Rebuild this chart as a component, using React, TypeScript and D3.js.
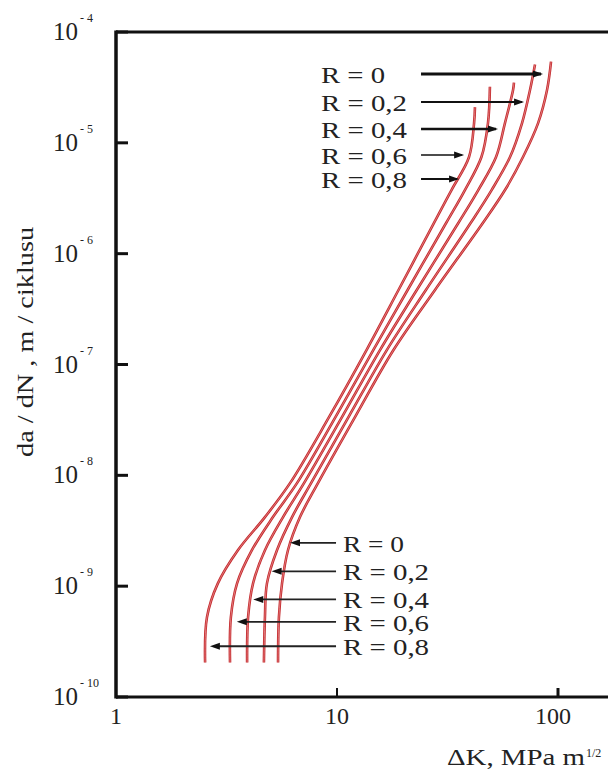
import React from "react";
import * as d3 from "d3";

// ---- data ----
const rateLevels = [2.05e-10, 5.25e-10, 1.06e-9, 2.11e-9, 4.2e-9, 8.5e-9, 3.35e-8, 1.35e-7, 4.7e-7, 1.9e-6, 3.75e-6, 7.45e-6, 1.5e-5];

const dkR08 = [2.53, 2.58, 2.89, 3.56, 4.72, 6.13, 9.2, 13.6, 18.98, 27.48, 32.97, 39.57, 41.7, 42.1];
const rateR08 = [...rateLevels, 2.1e-5];
const dkR06 = [3.28, 3.31, 3.53, 4.12, 5.13, 6.59, 9.84, 14.59, 20.87, 31.21, 37.91, 45.03, 48.2, 49.2];
const rateR06 = [...rateLevels, 3.2e-5];
const dkR04 = [3.92, 3.96, 4.17, 4.72, 5.7, 7.09, 10.53, 15.65, 22.96, 35.46, 43.57, 52.43, 57.5, 62.6, 63.2];
const rateR04 = [...rateLevels, 3.0e-5, 3.5e-5];
const dkR02 = [4.67, 4.72, 4.82, 5.35, 6.26, 7.63, 11.27, 16.8, 25.25, 40.3, 50.07, 60.66, 68.7, 74.7, 78.7];
const rateR02 = [...rateLevels, 3.0e-5, 5.1e-5];
const dkR0 = [5.41, 5.46, 5.64, 6.0, 6.8, 8.2, 12.06, 18.01, 27.76, 45.78, 57.56, 69.44, 81.2, 89.2, 93.0];
const rateR0 = [...rateLevels, 3.0e-5, 5.4e-5];

const seriesDK = [dkR08, dkR06, dkR04, dkR02, dkR0];
const seriesRate = [rateR08, rateR06, rateR04, rateR02, rateR0];

const labelsR = ["R = 0", "R = 0,2", "R = 0,4", "R = 0,6", "R = 0,8"];

const topArrowRate = [4.18e-5, 2.34e-5, 1.33e-5, 7.76e-6, 4.71e-6];
const topArrowTipDK = [89.2, 73.2, 55.8, 39.2, 37.2];
const topArrowTailDK = 24.0;
const topArrowWidth = [3, 2, 2.5, 1.5, 2];

const bottomArrowRate = [2.46e-9, 1.36e-9, 7.59e-10, 4.77e-10, 2.87e-10];
const bottomArrowTipDK = [6.13, 5.06, 4.18, 3.52, 2.66];
const bottomArrowTailDK = 9.9;

const yTickExp = [-4, -5, -6, -7, -8, -9, -10];
const xTickValues = [1, 10, 100];
const xTickLabels = ["1", "10", "100"];

const FONT = "'Liberation Serif', 'Times New Roman', serif";

export default function App() {
  const W = 608;
  const H = 769;
  const x = d3.scaleLog().domain([1, 1000]).range([116, 116 + 663]);
  const y = d3.scaleLog().domain([1e-10, 1e-4]).range([697, 32]);
  const x0 = x(1);
  const yTop = y(1e-4);
  const yBot = y(1e-10);

  const line = d3
    .line<[number, number]>()
    .x((d) => x(d[0]))
    .y((d) => y(d[1]))
    .curve(d3.curveCatmullRom.alpha(0.5));

  const curves = seriesDK.map((dk, i) =>
    line(dk.map((v, j) => [v, seriesRate[i][j]] as [number, number]))
  );

  const arrowHead = (tx: number, ty: number, dir: number) => {
    const L = 10;
    const hw = 3.5;
    return `M${tx},${ty} L${tx - dir * L},${ty - hw} L${tx - dir * L},${ty + hw} Z`;
  };

  const labelLen = (s: string) => (s.length <= 5 ? 64 : 86);

  return (
    <svg
      width={W}
      height={H}
      style={{ position: "absolute", left: 0, top: 0, background: "#fff" }}
      fontFamily={FONT}
    >
      <rect x={0} y={0} width={W} height={H} fill="#fff" />
      {/* curves */}
      {curves.map((d, i) => (
        <g key={"c" + i}>
          <path d={d || ""} fill="none" stroke="#c42a2e" strokeWidth={2.6} />
          <path d={d || ""} fill="none" stroke="#ee9a9a" strokeWidth={0.7} />
        </g>
      ))}

      {/* frame */}
      <line x1={x0} x2={W} y1={yTop} y2={yTop} stroke="#111" strokeWidth={2.8} />
      <line x1={x0} x2={W} y1={yBot} y2={yBot} stroke="#111" strokeWidth={3.2} />
      <line x1={x0} x2={x0} y1={yTop - 1.4} y2={yBot + 1.6} stroke="#111" strokeWidth={3.5} />

      {/* y ticks and labels */}
      {yTickExp.map((e) => {
        const ty = y(Math.pow(10, e));
        return (
          <g key={"yt" + e}>
            <line x1={x0} x2={x0 + 12} y1={ty} y2={ty} stroke="#111" strokeWidth={3} />
            <text x={78} y={ty + 8} textAnchor="end" fontSize={25} fill="#222">
              10
            </text>
            <text x={80} y={ty - 10} fontSize={12} fill="#222">
              {"- " + String(-e)}
            </text>
          </g>
        );
      })}

      {/* x ticks and labels */}
      {xTickValues.map((v, i) => {
        const tx = x(v);
        return (
          <g key={"xt" + v}>
            {v > 1 && (
              <line x1={tx} x2={tx} y1={yBot} y2={yBot - 9} stroke="#111" strokeWidth={v === 100 ? 3 : 2} />
            )}
            <text x={tx - (v === 100 ? 5 : 0)} y={724} textAnchor="middle" fontSize={24} fill="#222">
              {xTickLabels[i]}
            </text>
          </g>
        );
      })}

      {/* axis titles */}
      <text
        transform={`translate(33, 342) rotate(-90)`}
        textAnchor="middle"
        fontSize={23}
        fill="#222"
        textLength={230}
        lengthAdjust="spacingAndGlyphs"
      >
        da / dN , m / ciklusu
      </text>
      <text x={447} y={765} fontSize={24} fill="#222" textLength={138} lengthAdjust="spacingAndGlyphs">
        ΔK, MPa m
      </text>
      <text x={586} y={757} fontSize={12} fill="#222">
        1/2
      </text>

      {/* top annotations */}
      {labelsR.map((lab, i) => {
        const ay = y(topArrowRate[i]);
        const tail = x(topArrowTailDK);
        const tip = x(topArrowTipDK[i]);
        return (
          <g key={"ta" + i}>
            <text
              x={tail - 100}
              y={ay + 9}
              fontSize={24}
              fill="#222"
              textLength={labelLen(lab)}
              lengthAdjust="spacingAndGlyphs"
            >
              {lab}
            </text>
            <line x1={tail} x2={tip - 6} y1={ay} y2={ay} stroke="#111" strokeWidth={topArrowWidth[i]} />
            <path d={arrowHead(tip - 4, ay, 1)} fill="#111" />
          </g>
        );
      })}

      {/* bottom annotations */}
      {labelsR.map((lab, i) => {
        const ay = y(bottomArrowRate[i]);
        const tail = x(bottomArrowTailDK);
        const tip = x(bottomArrowTipDK[i]);
        return (
          <g key={"ba" + i}>
            <text
              x={tail + 7}
              y={ay + 9}
              fontSize={24}
              fill="#222"
              textLength={s_len(lab)}
              lengthAdjust="spacingAndGlyphs"
            >
              {lab}
            </text>
            <line x1={tail} x2={tip + 6} y1={ay} y2={ay} stroke="#222" strokeWidth={1.8} />
            <path d={arrowHead(tip, ay, -1)} fill="#111" />
          </g>
        );
      })}
    </svg>
  );
}

function s_len(s: string) {
  return s.length <= 5 ? 61 : 86;
}
